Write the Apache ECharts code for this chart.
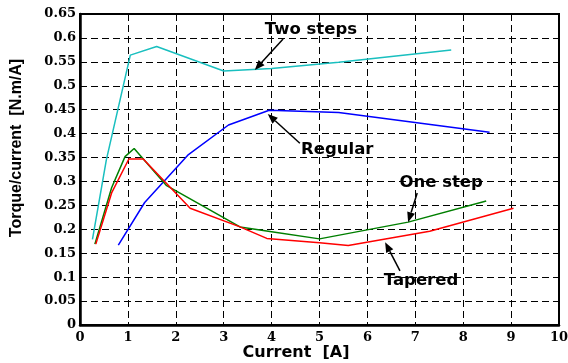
<!DOCTYPE html>
<html>
<head>
<meta charset="utf-8">
<script src="https://cdn.jsdelivr.net/npm/echarts@6/dist/echarts.min.js"></script>
<style>
  html, body { margin: 0; padding: 0; background: #fff; }
  #chart { width: 568px; height: 363px; }
</style>
</head>
<body>
<div id="chart"></div>
<script>
// Torque per ampere against phase current for four winding variants
const twoSteps = [[0.26, 0.179], [0.55, 0.345], [1.05, 0.564], [1.6, 0.582], [3.0, 0.531], [4.0, 0.536], [5.4, 0.549], [7.75, 0.575]];
const regular  = [[0.8, 0.167], [1.35, 0.256], [2.25, 0.355], [3.1, 0.418], [3.95, 0.449], [5.4, 0.444], [8.55, 0.403]];
const oneStep  = [[0.31, 0.169], [0.66, 0.287], [0.94, 0.352], [1.13, 0.369], [1.8, 0.292], [3.34, 0.205], [4.0, 0.195], [5.0, 0.180], [6.85, 0.215], [8.48, 0.259]];
const tapered  = [[0.33, 0.169], [0.66, 0.276], [1.02, 0.347], [1.32, 0.347], [2.3, 0.244], [3.34, 0.205], [3.9, 0.181], [5.0, 0.172], [5.6, 0.166], [7.3, 0.196], [9.05, 0.244]];

// Callout labels: text anchor, arrow tail, arrow tip (data units)
const noteNames = ['Two steps', 'Regular', 'One step', 'Tapered'];
const noteText  = [[4.82, 0.617], [5.37, 0.366], [7.54, 0.297], [7.12, 0.092]];
const noteTail  = [[4.24, 0.598], [4.59, 0.380], [7.04, 0.276], [6.68, 0.113]];
const noteTip   = [[3.65, 0.533], [3.92, 0.441], [6.85, 0.215], [6.37, 0.173]];

const xTitle = 'Current  [A]';
const yTitle = 'Torque/current  [N.m/A]';

const xTicks = { min: 0, max: 10, interval: 1 };
const yTicks = { min: 0, max: 0.65, interval: 0.05 };

const chart = echarts.init(document.getElementById('chart'), null, { renderer: 'canvas' });

const tickFont = { fontFamily: 'DejaVu Serif', fontWeight: 'bold', fontSize: 13, color: '#000' };
const gridDash = { show: true, lineStyle: { color: '#000', width: 1, type: [7, 4] } };

function curve(name, data, color) {
  return {
    name, type: 'line', data, symbol: 'none', smooth: false,
    lineStyle: { color, width: 1.5 }, z: 3
  };
}

// Callout: bold text plus a straight arrow pointing at its curve
function renderNote(params, api) {
  const i = api.value(0);
  const t = api.coord([noteText[i][0], noteText[i][1]]);
  const a = api.coord([noteTail[i][0], noteTail[i][1]]);
  const b = api.coord([noteTip[i][0], noteTip[i][1]]);
  const ang = Math.atan2(b[1] - a[1], b[0] - a[0]);
  const len = 10, half = 4;
  const bx = b[0] - len * Math.cos(ang), by = b[1] - len * Math.sin(ang);
  const px = -Math.sin(ang) * half, py = Math.cos(ang) * half;
  return {
    type: 'group',
    children: [
      { type: 'line', shape: { x1: a[0], y1: a[1], x2: bx, y2: by }, style: { stroke: '#000', lineWidth: 1.5 } },
      { type: 'polygon', shape: { points: [[b[0], b[1]], [bx + px, by + py], [bx - px, by - py]] }, style: { fill: '#000' } },
      {
        type: 'text', x: t[0], y: t[1],
        style: {
          text: noteNames[i], fill: '#000', align: 'center', verticalAlign: 'middle',
          font: 'bold 16.5px "DejaVu Sans"'
        }
      }
    ]
  };
}

chart.setOption({
  animation: false,
  backgroundColor: '#fff',
  grid: {
    left: 80, top: 14, right: 9, bottom: 38, outerBoundsMode: 'none', containLabel: false,
    show: true, borderColor: '#000', borderWidth: 2, backgroundColor: 'transparent'
  },
  graphic: [
    {
      type: 'text', x: 296, y: 353, silent: true,
      style: { text: xTitle, fill: '#000', align: 'center', verticalAlign: 'middle', font: 'bold 16px "DejaVu Sans"' }
    },
    {
      type: 'text', x: 17, y: 148, rotation: Math.PI / 2, silent: true,
      style: { text: yTitle, fill: '#000', align: 'center', verticalAlign: 'middle', font: 'bold 16px "Liberation Sans"' }
    }
  ],
  xAxis: {
    type: 'value', min: xTicks.min, max: xTicks.max, interval: xTicks.interval,
    axisLine: { show: true, lineStyle: { color: '#000', width: 2.5 } },
    axisTick: { show: false },
    axisLabel: Object.assign({ margin: 6 }, tickFont),
    splitLine: gridDash
  },
  yAxis: {
    type: 'value', min: yTicks.min, max: yTicks.max, interval: yTicks.interval,
    axisLine: { show: true, lineStyle: { color: '#000', width: 2.5 } },
    axisTick: { show: false },
    axisLabel: Object.assign({ margin: 4, formatter: v => String(+v.toFixed(2)) }, tickFont),
    splitLine: gridDash
  },
  series: [
    curve('Two steps', twoSteps, '#19BFBF'),
    curve('Regular', regular, '#0000FF'),
    curve('One step', oneStep, '#007F00'),
    curve('Tapered', tapered, '#FF0000'),
    {
      name: 'notes', type: 'custom', z: 5, silent: true,
      renderItem: renderNote,
      data: noteNames.map((n, i) => [i]),
      encode: { x: [], y: [] }
    }
  ]
});
</script>
</body>
</html>
